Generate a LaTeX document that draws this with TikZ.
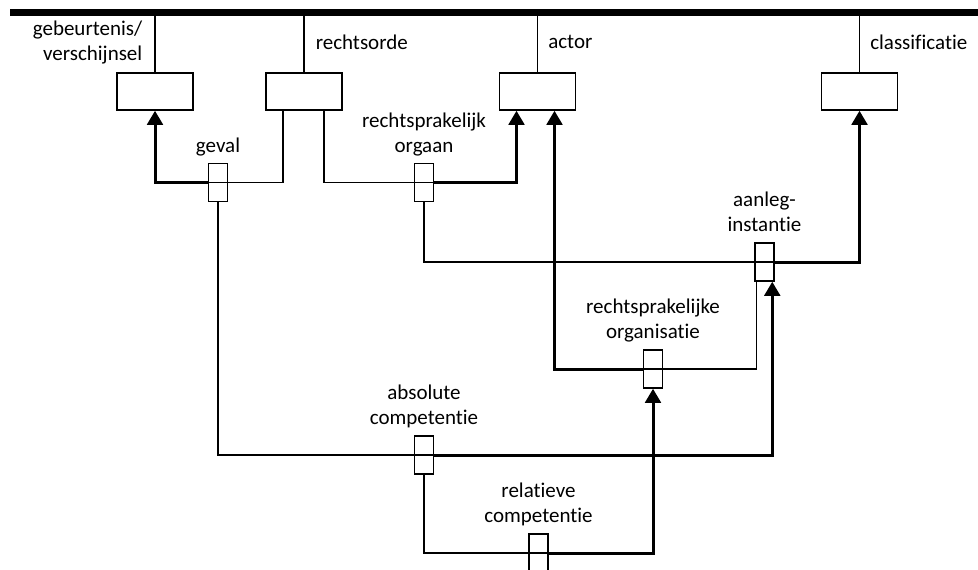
\documentclass[tikz,border=0pt]{standalone}
\usepackage{fontspec}
\setmainfont{Carlito}[Ligatures=NoCommon]
\usetikzlibrary{arrows.meta,calc,positioning}

\begin{document}
\begin{tikzpicture}[x=0.5pt,y=-0.5pt,>={Triangle[width=7.8pt,length=7pt]},
                    line width=0.75pt,font=\fontsize{10.5}{12.5}\selectfont]
  \tikzstyle{concept}=[draw,rectangle,minimum width=38pt,minimum height=18.5pt,inner sep=0pt]
  \tikzstyle{fact}=[draw,rectangle,minimum width=9.5pt,minimum height=19pt,inner sep=0pt]
  \tikzstyle{role}=[line width=1.5pt,->]
  \tikzstyle{factname}=[align=center,inner sep=0pt,execute at end node={\strut}]
  \tikzstyle{typename}=[inner sep=0pt,pos=0.5]

  \clip (0,0) rectangle (978,569);
  \coordinate (bl) at (10,12.5);
  \coordinate (br) at (978,12.5);

  \node[concept] (G) at (155,91.5)   {};
  \node[concept] (R) at (304,91.5)   {};
  \node[concept] (A) at (537.5,91.5) {};
  \node[concept] (K) at (859.5,91.5) {};

  \node[fact] (gev)  at (218,182.5) {};
  \node[fact] (org)  at (424,182.5) {};
  \node[fact] (aan)  at (764.5,262) {};
  \node[fact] (rorg) at (653,369)   {};
  \node[fact] (abs)  at (424,455)   {};
  \node[fact] (rel)  at (538.5,553) {};

  \node[factname,above=1.2pt of gev]  (lgev)  {geval};
  \node[factname,above=1.2pt of org]  (lorg)  {rechtsprakelijk\\orgaan};
  \node[factname,above=1.2pt of aan]  (laan)  {aanleg-\\instantie};
  \node[factname,above=1.2pt of rorg] (lrorg) {rechtsprakelijke\\organisatie};
  \node[factname,above=1.2pt of abs]  (labs)  {absolute\\competentie};
  \node[factname,above=1.2pt of rel]  (lrel)  {relatieve\\competentie};

  \draw (G.north) -- (G.north |- bl) node[typename,left=6pt,align=right] {gebeurtenis/\\verschijnsel};
  \draw (R.north) -- (R.north |- bl) node[typename,right=5.5pt] {rechtsorde};
  \draw (A.north) -- (A.north |- bl) node[typename,right=5pt] {actor};
  \draw (K.north) -- (K.north |- bl) node[typename,right=5pt] {classificatie};
  \draw[line width=3.25pt] (bl) -- (br);

  \draw (gev.west) -- (gev.east) -| ($(R.south)+(-21,0)$);
  \draw[role] (gev.west) -| (G.south);
  \draw ($(R.south)+(20,0)$) |- (org.west) -- (org.east);
  \draw[role] (org.east) -| ($(A.south)+(-21,0)$);
  \draw (org.south) |- (aan.west) -- (aan.east);
  \draw[role] (aan.east) -| (K.south);
  \draw ($(aan.south west)+(2,0)$) |- (rorg.east) -- (rorg.west);
  \draw[role] (rorg.west) -| ($(A.south)+(17,0)$);
  \draw (gev.south) |- (abs.west) -- (abs.east);
  \draw[role] (abs.east) -| ($(aan.south east)+(-2.5,0)$);
  \draw (abs.south) |- (rel.west) -- (rel.east);
  \draw[role] (rel.east) -| (rorg.south);
\end{tikzpicture}
\end{document}
